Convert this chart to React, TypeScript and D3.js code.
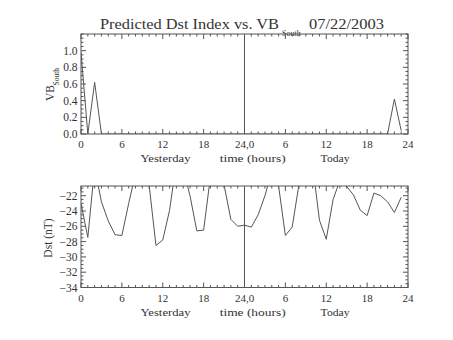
import React from "react";
import * as d3 from "d3";

const hours = d3.range(0, 48);
const vbSouth = [0.98, 0, 0.62, 0, 0, 0, 0, 0, 0, 0, 0, 0, 0, 0, 0, 0, 0, 0, 0, 0, 0, 0, 0, 0,
  0, 0, 0, 0, 0, 0, 0, 0, 0, 0, 0, 0, 0, 0, 0, 0, 0, 0, 0, 0, 0, 0, 0.42, 0.04];
const dst = [-23.0, -27.45, -18.3, -22.8, -25.3, -27.1, -27.2, -23.0, -19.1, -18.0, -20.6, -28.5,
  -27.8, -23.9, -17.6, -18.5, -22.0, -26.6, -26.5, -19.5, -18.5, -20.6, -25.1, -26.0,
  -25.85, -26.1, -24.5, -22.0, -18.8, -20.7, -27.2, -26.1, -20.5, -17.5, -18.0, -25.2,
  -27.7, -22.5, -20.0, -20.8, -21.9, -23.9, -24.6, -21.65, -22.0, -22.8, -24.2, -22.2];
const xTickValues = [0, 6, 12, 18, 24, 30, 36, 42, 48];
const xTickLabels = ["0", "6", "12", "18", "24,0", "6", "12", "18", "24"];
const vbTicks = [0, 0.2, 0.4, 0.6, 0.8, 1.0];
const dstTicks = [-34, -32, -30, -28, -26, -24, -22];
const dayLabels = ["Yesterday", "time (hours)", "Today"];
const dayLabelHours = [12.4, 25.2, 37.3];
const dayLabelWidths = [50, 66, 29];

const FONT = "'Liberation Serif', 'DejaVu Serif', serif";
const LINE = "#555";
const TEXT = "#333";

const L = 81, R = 408;

type PanelProps = {
  top: number; bottom: number; domain: [number, number]; ticks: number[];
  minorStep: number; values: number[]; fmt: (v: number) => string; id: string;
  label: React.ReactNode;
};

function Panel({ top, bottom, domain, ticks, minorStep, values, fmt, id, label }: PanelProps) {
  const x = d3.scaleLinear().domain([0, 48]).range([L, R]);
  const y = d3.scaleLinear().domain(domain).range([bottom, top]);
  const line = d3.line<number>().x((_, i) => x(hours[i])).y((d) => y(d));
  const minorX = d3.range(0, 49, 1).filter((h) => h % 6 !== 0);
  const minorY = d3.range(Math.ceil(domain[0] / minorStep) * minorStep, domain[1] + 1e-9, minorStep)
    .filter((v) => !ticks.some((t) => Math.abs(t - v) < 1e-6));
  const majLen = 5, minLen = 2.5;
  return (
    <g>
      <defs>
        <clipPath id={id}>
          <rect x={L} y={top} width={R - L} height={bottom - top} />
        </clipPath>
      </defs>
      <rect x={L} y={top} width={R - L} height={bottom - top} fill="none" stroke={LINE} strokeWidth={1} />
      {xTickValues.map((h) => (
        <g key={"xm" + h}>
          <line x1={x(h)} x2={x(h)} y1={bottom} y2={bottom - majLen} stroke={LINE} />
          <line x1={x(h)} x2={x(h)} y1={top} y2={top + majLen} stroke={LINE} />
        </g>
      ))}
      {minorX.map((h) => (
        <g key={"xn" + h}>
          <line x1={x(h)} x2={x(h)} y1={bottom} y2={bottom - minLen} stroke={LINE} />
          <line x1={x(h)} x2={x(h)} y1={top} y2={top + minLen} stroke={LINE} />
        </g>
      ))}
      {ticks.map((v) => (
        <g key={"ym" + v}>
          <line x1={L} x2={L + majLen} y1={y(v)} y2={y(v)} stroke={LINE} />
          <line x1={R} x2={R - majLen} y1={y(v)} y2={y(v)} stroke={LINE} />
          <text x={77.5} y={y(v) + 4} textAnchor="end" fontFamily={FONT} fontSize={11.5} fill={TEXT}>{fmt(v)}</text>
        </g>
      ))}
      {minorY.map((v) => (
        <g key={"yn" + v}>
          <line x1={L} x2={L + minLen} y1={y(v)} y2={y(v)} stroke={LINE} />
          <line x1={R} x2={R - minLen} y1={y(v)} y2={y(v)} stroke={LINE} />
        </g>
      ))}
      <line x1={x(24)} x2={x(24)} y1={top} y2={bottom} stroke={LINE} />
      <path d={line(values) || ""} fill="none" stroke={LINE} strokeWidth={1} clipPath={`url(#${id})`} />
      {xTickValues.map((h, i) => (
        <text key={"xl" + h} x={x(h)} y={bottom + 14} textAnchor="middle" fontFamily={FONT} fontSize={11} fill={TEXT}>
          {xTickLabels[i]}
        </text>
      ))}
      {dayLabels.map((s, i) => (
        <text key={s} x={x(dayLabelHours[i]) - dayLabelWidths[i] / 2} y={bottom + 28} fontFamily={FONT} fontSize={11} fill={TEXT}
          textLength={dayLabelWidths[i]} lengthAdjust="spacingAndGlyphs">
          {s}
        </text>
      ))}
      {label}
    </g>
  );
}

export default function App() {
  return (
    <svg width={453} height={340} style={{ position: "absolute", left: 0, top: 0, background: "#fff" }}>
      <text y={29} fontFamily={FONT} fontSize={14} fill={TEXT}>
        <tspan x={100} textLength={179} lengthAdjust="spacingAndGlyphs">Predicted Dst Index vs. VB</tspan>
      </text>
      <text x={282} y={35.5} fontFamily={FONT} fontSize={8} fill={TEXT}>South</text>
      <text x={309} y={29} fontFamily={FONT} fontSize={14} fill={TEXT} textLength={75} lengthAdjust="spacingAndGlyphs">07/22/2003</text>
      <Panel
        id="clipTop" top={34} bottom={134} domain={[0, 1.2]} ticks={vbTicks} minorStep={0.05}
        values={vbSouth} fmt={(v) => v.toFixed(1)}
        label={
          <g transform="translate(54,101) rotate(-90)">
            <text x={0} y={0} fontFamily={FONT} fontSize={11.5} fill={TEXT}>VB</text>
            <text x={15.5} y={5} fontFamily={FONT} fontSize={7.5} fill={TEXT}>South</text>
          </g>
        }
      />
      <Panel
        id="clipBot" top={186} bottom={287.5} domain={[-34, -20.73]} ticks={dstTicks} minorStep={0.5}
        values={dst} fmt={(v) => "\u2212" + Math.abs(v)}
        label={
          <text transform="translate(52,238) rotate(-90)" textAnchor="middle" fontFamily={FONT} fontSize={11.5} fill={TEXT}>Dst (nT)</text>
        }
      />
    </svg>
  );
}
